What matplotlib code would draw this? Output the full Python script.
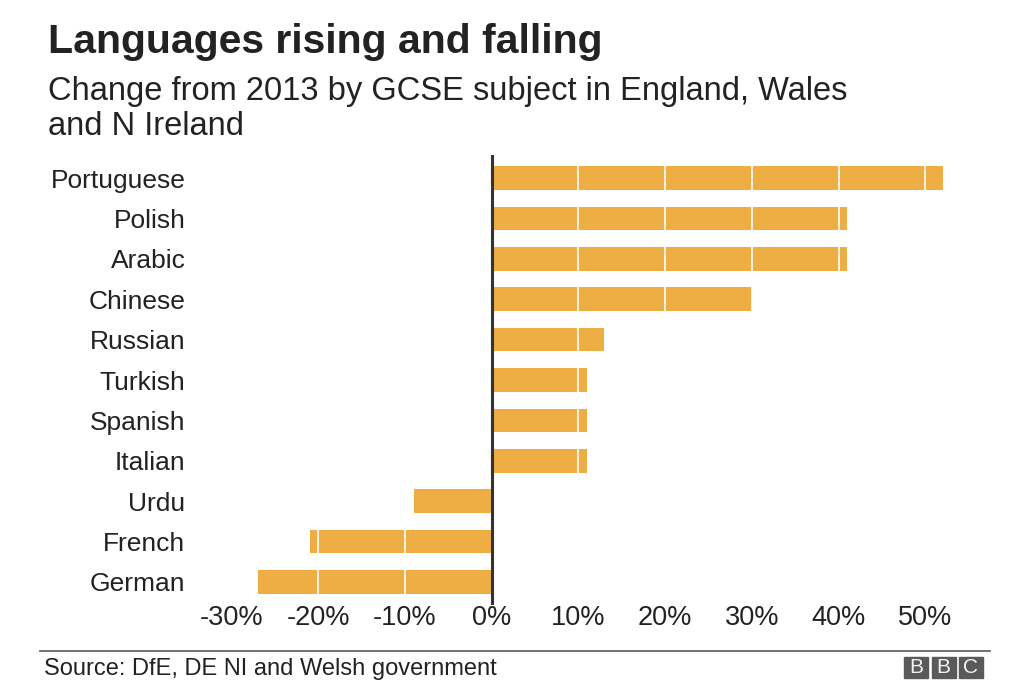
import matplotlib
matplotlib.use("Agg")
import matplotlib.pyplot as plt
from matplotlib.patches import Rectangle

BAR = "#eeae43"
TEXT = "#222222"

languages = ["Portuguese", "Polish", "Arabic", "Chinese", "Russian", "Turkish",
             "Spanish", "Italian", "Urdu", "French", "German"]
change = [52, 41, 41, 30, 13, 11, 11, 11, -9, -21, -27]
xticks = [-30, -20, -10, 0, 10, 20, 30, 40, 50]
xticklabels = ["-30%", "-20%", "-10%", "0%", "10%", "20%", "30%", "40%", "50%"]

plt.rcParams["font.family"] = ["Liberation Sans", "DejaVu Sans"]

W, H = 1024, 700
fig = plt.figure(figsize=(W / 100, H / 100), dpi=100)


def fy(px):
    return 1 - px / H


# axes placed in pixel terms: 0% at x=491.7, 86.7 px per 10%
left_px, right_px = 200, 960
px_per = 8.67
x0 = 491.7
ax = fig.add_axes([left_px / W, fy(605), (right_px - left_px) / W, (605 - 155) / H])
ax.set_xlim((left_px - x0) / px_per, (right_px - x0) / px_per)

y = list(range(len(languages)))
ax.barh(y, change, height=0.58, color=BAR, zorder=1)
ax.set_ylim(len(languages) - 0.43, -0.57)

# white gridlines on top of bars
for t in xticks:
    if t != 0:
        ax.axvline(t, color="white", lw=1.2, zorder=2)
ax.axvline(0, color="#333333", lw=2.2, zorder=3)

for s in ax.spines.values():
    s.set_visible(False)
ax.set_yticks(y)
ax.set_yticklabels(languages, fontsize=19, color=TEXT)
ax.set_xticks(xticks)
ax.set_xticklabels(xticklabels, fontsize=19.5, color=TEXT)
ax.tick_params(length=0)
ax.tick_params(axis="y", pad=10.5)
ax.tick_params(axis="x", pad=0)

fig.text(48 / W, fy(53), "Languages rising and falling", fontsize=29.5,
         fontweight="bold", color=TEXT, va="baseline", ha="left")
fig.text(48 / W, fy(100), "Change from 2013 by GCSE subject in England, Wales",
         fontsize=23.5, color=TEXT, va="baseline", ha="left")
fig.text(48 / W, fy(135), "and N Ireland",
         fontsize=23.5, color=TEXT, va="baseline", ha="left")

# footer
fig.add_artist(plt.Line2D([40 / W, 990 / W], [fy(651), fy(651)], color="#666666", lw=1.3))
fig.text(44 / W, fy(675), "Source: DfE, DE NI and Welsh government", fontsize=17,
         color=TEXT, va="baseline", ha="left")
for i, ch in enumerate("BBC"):
    bx = 904 + i * 27.5
    fig.add_artist(Rectangle((bx / W, fy(678)), 24 / W, 21 / H, color="#5a5a5a",
                             transform=fig.transFigure))
    fig.text((bx + 12) / W, fy(667.5), ch, fontsize=15,
             color="#f2f2f2", ha="center", va="center")

fig.savefig("out.png", dpi=100, facecolor="white")
